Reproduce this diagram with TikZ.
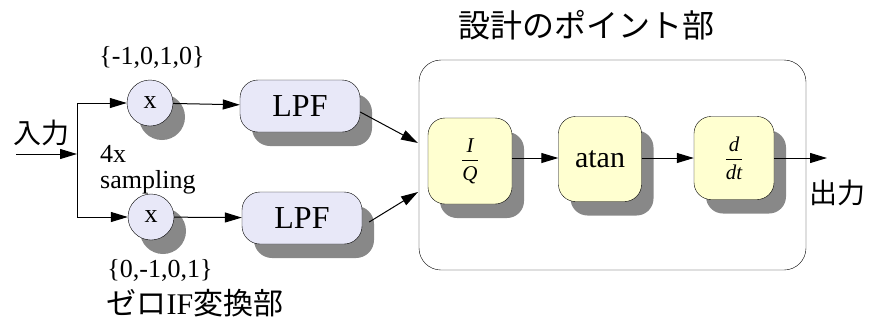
\documentclass[tikz,border=0pt]{standalone}
\usepackage{amsmath}
\usepackage{fontspec}
\setmainfont{Liberation Serif}
\newfontfamily\dmserif{Liberation Serif}
\newfontfamily\cjk{Noto Sans CJK JP}
\usepackage{tikz}
\usetikzlibrary{arrows.meta,positioning,shadows}
\usepackage{xcolor}
\definecolor{dmblue}{RGB}{232,232,248}
\definecolor{dmyellow}{RGB}{255,255,208}
\definecolor{dmshadow}{RGB}{136,136,136}
\tikzset{
  dmshade/.style={drop shadow={shadow xshift=12pt, shadow yshift=-14pt, fill=dmshadow, opacity=1}},
  dmmix/.style={draw, circle, fill=dmblue, minimum size=46pt, inner sep=0pt, dmshade, font=\dmserif\fontsize{26}{28}\selectfont},
  dmlpf/.style={draw, rounded corners=18pt, fill=dmblue, minimum width=120pt, minimum height=52pt, dmshade, font=\dmserif\fontsize{32}{34}\selectfont},
  dmblock/.style={draw, rounded corners=17pt, fill=dmyellow, minimum width=83pt, minimum height=85pt, inner sep=0pt, dmshade},
  dmframe/.style={draw, rounded corners=22pt, minimum width=387pt, minimum height=210pt},
  dmarrow/.style={-{Triangle[length=17pt,width=10pt]}, line width=1pt},
  dmline/.style={line width=1pt},
  dmtext/.style={font=\dmserif\fontsize{26}{28}\selectfont, inner sep=0pt},
  dmjp/.style={font=\cjk\fontsize{28}{30}\selectfont, inner sep=0pt},
}

\begin{document}
\begin{tikzpicture}[x=1pt, y=-1pt]
  \useasboundingbox (0,0) rectangle (869,322);

  % Input and branching
  \node[dmjp] (inlbl) at (41,133) {入力};
  \coordinate (insrc) at (16,154);
  \coordinate (split) at (77,154);
  \coordinate (splita) at (77,103);
  \coordinate (splitb) at (77,217);

  % Zero-IF conversion
  \node[dmmix] (mixa) at (150,103) {x};
  \node[dmmix] (mixb) at (151,217) {x};
  \node[dmlpf] (lpfa) at (300,106) {LPF};
  \node[dmlpf] (lpfb) at (302,218) {LPF};

  \node[dmtext] (seqa) at (152,57) {\{-1,0,1,0\}};
  \node[dmtext] (seqb) at (160,270) {\{0,-1,0,1\}};
  \node[dmtext, anchor=west] (ratea) at (100,154) {4x};
  \node[dmtext, anchor=west] (rateb) at (100,182) {sampling};
  \node[dmtext, font=\dmserif\fontsize{30}{32}\selectfont] (zifname) at (195,303) {{\cjk ゼロ}IF{\cjk 変換部}};

  % Design block
  \node[dmframe] (blk) at (612.5,165) {};
  \node[dmjp, font=\cjk\fontsize{32}{34}\selectfont] (blkname) at (586,25) {設計のポイント部};
  \node[dmblock, minimum width=84pt, minimum height=86pt, font=\dmserif\fontsize{21}{23}\selectfont] (iq) at (470,161) {$\dfrac{\textit{I}}{\textit{Q}}$};
  \node[dmblock, font=\dmserif\fontsize{30}{32}\selectfont] (atan) at (600,159) {atan};
  \node[dmblock, minimum width=80pt, minimum height=83pt, font=\dmserif\fontsize{21}{23}\selectfont] (ddt) at (734,158) {$\dfrac{\textit{d}}{\textit{dt}}$};
  \coordinate (ina) at (418,143);
  \coordinate (inb) at (418,192);
  \coordinate (outp) at (827,158);
  \node[dmjp] (outlbl) at (837,193) {出力};

  % Connections
  \draw[dmarrow] (insrc) -- (split);
  \draw[dmline] (splita) -- (splitb);
  \draw[dmarrow] (splita) -- (mixa);
  \draw[dmarrow] (splitb) -- (mixb);
  \draw[dmarrow] (mixa) -- (lpfa);
  \draw[dmarrow] (mixb) -- (lpfb);
  \draw[dmarrow] ([yshift=-6pt]lpfa.east) -- (ina);
  \draw[dmarrow] ([xshift=7pt,yshift=-4pt]lpfb.east) -- (inb);
  \draw[dmarrow] (iq.east |- outp) -- (atan.west |- outp);
  \draw[dmarrow] (atan.east |- outp) -- (ddt.west |- outp);
  \draw[dmarrow] (ddt.east |- outp) -- (outp);
\end{tikzpicture}
\end{document}
